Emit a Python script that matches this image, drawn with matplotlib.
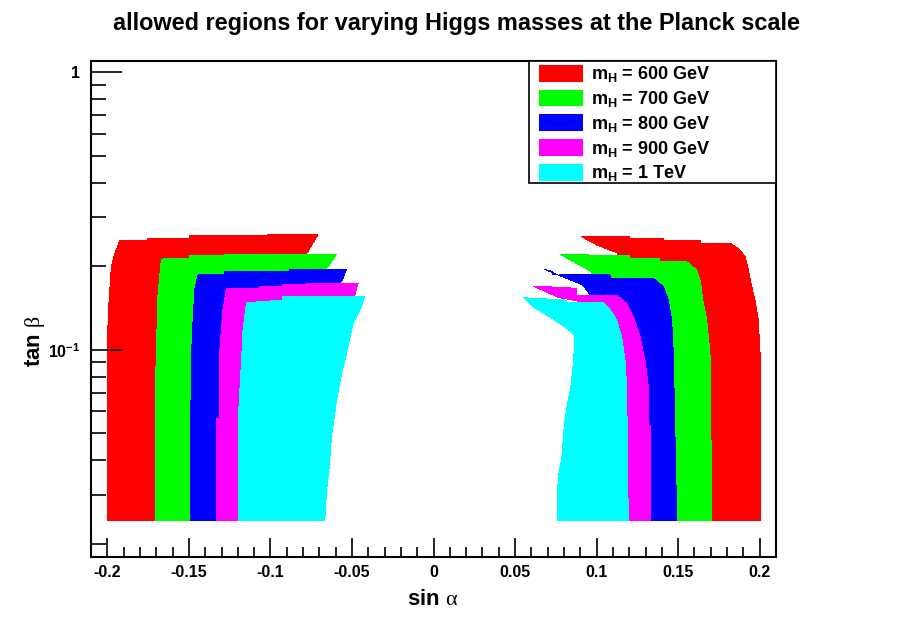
import matplotlib
matplotlib.use('Agg')
import matplotlib.pyplot as plt
from matplotlib.patches import Rectangle
from matplotlib.ticker import FixedLocator, NullFormatter

plt.rcParams['font.family'] = ['Liberation Sans', 'DejaVu Sans']
plt.rcParams['mathtext.fontset'] = 'custom'
plt.rcParams['mathtext.bf'] = 'Liberation Sans:bold'
plt.rcParams['mathtext.rm'] = 'Liberation Serif'
plt.rcParams['mathtext.it'] = 'Liberation Serif:italic'

# allowed regions, outlines in (sin alpha, tan beta), negative sin alpha side
red_l_sa = [-0.200, -0.200, -0.199, -0.1975, -0.196, -0.1945, -0.1925, -0.1753, -0.1753, -0.1495, -0.1495,
            -0.1017, -0.1017, -0.071, -0.0777, -0.0912, -0.0912]
red_l_tb = [0.0243, 0.107, 0.1475, 0.1995, 0.2167, 0.229, 0.2474, 0.2474, 0.2524, 0.2524, 0.2573,
            0.2573, 0.2595, 0.2595, 0.2229, 0.145, 0.0243]
green_l_sa = [-0.1706, -0.1704, -0.169, -0.1679, -0.1669, -0.1648, -0.1495, -0.1495, -0.1281, -0.1281,
              -0.0595, -0.0647, -0.0912, -0.0912]
green_l_tb = [0.0243, 0.0777, 0.1553, 0.1834, 0.2108, 0.2138, 0.2138, 0.2180, 0.2180, 0.2211,
              0.2211, 0.1993, 0.145, 0.0243]
blue_l_sa = [-0.1493, -0.1485, -0.1475, -0.1464, -0.1444, -0.1281, -0.1281, -0.0882, -0.0882, -0.0534,
             -0.0564, -0.0912, -0.0912]
blue_l_tb = [0.0243, 0.0918, 0.1248, 0.1642, 0.1861, 0.1861, 0.1913, 0.1913, 0.1951, 0.1951,
             0.1760, 0.145, 0.0243]
mag_l_sa = [-0.1329, -0.1329, -0.1315, -0.1315, -0.1301, -0.1291, -0.127, -0.1066, -0.1066, -0.0923,
            -0.0923, -0.0463, -0.0483, -0.0912, -0.0912]
mag_l_tb = [0.0243, 0.0567, 0.0567, 0.0918, 0.1178, 0.1391, 0.1666, 0.1666, 0.1688, 0.1688,
            0.1722, 0.1737, 0.1575, 0.145, 0.0243]
cyan_l_sa = [-0.1194, -0.1193, -0.1178, -0.1168, -0.1147, -0.0923, -0.0923, -0.0422, -0.0442, -0.0493,
             -0.0534, -0.0564, -0.0595, -0.0626, -0.064, -0.0656, -0.0667]
cyan_l_tb = [0.0243, 0.0623, 0.0893, 0.1178, 0.1478, 0.1511, 0.1562, 0.1562, 0.1429, 0.1245,
             0.0970, 0.0822, 0.0658, 0.0485, 0.0378, 0.0311, 0.0243]

# positive sin alpha side
red_r_sa = [0.2006, 0.2002, 0.1991, 0.1971, 0.1951, 0.1930, 0.1910, 0.1879, 0.1818, 0.1634, 0.1634,
            0.1409, 0.1409, 0.1204, 0.1204, 0.0908, 0.1000, 0.1133, 0.1008, 0.1008]
red_r_tb = [0.0243, 0.0970, 0.1280, 0.1511, 0.1688, 0.1940, 0.2167, 0.2291, 0.2422, 0.2422, 0.2474,
            0.2474, 0.2524, 0.2524, 0.2558, 0.2558, 0.2388, 0.2229, 0.1450, 0.0243]
green_r_sa = [0.1707, 0.1695, 0.1675, 0.1654, 0.1634, 0.1613, 0.1552, 0.1388, 0.1388, 0.1204, 0.1204,
              0.0950, 0.0950, 0.0775, 0.0969, 0.1008, 0.1008]
green_r_tb = [0.0243, 0.0970, 0.1280, 0.1474, 0.1785, 0.1940, 0.2078, 0.2078, 0.2138, 0.2138, 0.2180,
              0.2180, 0.2211, 0.2211, 0.1913, 0.1450, 0.0243]
blue_r_sa = [0.1491, 0.1470, 0.1460, 0.1439, 0.1409, 0.1347, 0.1082, 0.1082, 0.0732, 0.0732, 0.0679,
             0.0916, 0.1008, 0.1008]
blue_r_tb = [0.0243, 0.0970, 0.1280, 0.1511, 0.1688, 0.1810, 0.1810, 0.1861, 0.1861, 0.1913, 0.1951,
             0.1712, 0.1450, 0.0243]
mag_r_sa = [0.1329, 0.1329, 0.1317, 0.1317, 0.1296, 0.1266, 0.1225, 0.1184, 0.1123, 0.0877, 0.0877,
            0.0611, 0.0764, 0.1008, 0.1008]
mag_r_tb = [0.0243, 0.0535, 0.0535, 0.0735, 0.0918, 0.1114, 0.1315, 0.1471, 0.1575, 0.1575, 0.1666,
            0.1698, 0.1546, 0.1450, 0.0243]
cyan_r_sa = [0.1194, 0.1184, 0.1174, 0.1153, 0.1123, 0.1092, 0.1040, 0.0816, 0.0816, 0.0554, 0.0611,
             0.0713, 0.0806, 0.0867, 0.0861, 0.0853, 0.0842, 0.0816, 0.0801, 0.0785, 0.0771, 0.0758, 0.0758]
cyan_r_tb = [0.0243, 0.0735, 0.0918, 0.1114, 0.1280, 0.1372, 0.1486, 0.1486, 0.1511, 0.1540, 0.1429,
             0.1315, 0.1211, 0.1130, 0.0970, 0.0845, 0.0735, 0.0616, 0.0527, 0.0400, 0.0368, 0.0303, 0.0243]

labels = [r'$\mathbf{m_{H}}$ = 600 GeV', r'$\mathbf{m_{H}}$ = 700 GeV', r'$\mathbf{m_{H}}$ = 800 GeV',
          r'$\mathbf{m_{H}}$ = 900 GeV', r'$\mathbf{m_{H}}$ = 1 TeV']
colors = ['#ff0000', '#00ff00', '#0000ff', '#ff00ff', '#00ffff']

regions = [
	(red_l_sa, red_l_tb, red_r_sa, red_r_tb),
	(green_l_sa, green_l_tb, green_r_sa, green_r_tb),
	(blue_l_sa, blue_l_tb, blue_r_sa, blue_r_tb),
	(mag_l_sa, mag_l_tb, mag_r_sa, mag_r_tb),
	(cyan_l_sa, cyan_l_tb, cyan_r_sa, cyan_r_tb),
]

fig = plt.figure(figsize=(9.13, 6.19), dpi=100)
ax = fig.add_axes([0.0997, 0.1007, 0.7503, 0.8008])
ax.set_yscale('log')

# later (heavier) masses are painted over the lighter ones
for (lsa, ltb, rsa, rtb), c in zip(regions, colors):
	ax.fill(lsa, ltb, color=c, lw=0, antialiased=False)
	ax.fill(rsa, rtb, color=c, lw=0, antialiased=False)

ax.set_xlim(-0.21, 0.21)
ax.set_ylim(0.01795, 1.10)

ax.set_xticks([-0.2, -0.15, -0.1, -0.05, 0, 0.05, 0.1, 0.15, 0.2])
ax.set_xticklabels(['-0.2', '-0.15', '-0.1', '-0.05', '0', '0.05', '0.1', '0.15', '0.2'])
ax.xaxis.set_minor_locator(FixedLocator([i / 100 for i in range(-20, 21)]))
ax.set_yticks([0.1, 1])
ax.set_yticklabels([r'$\mathbf{10^{-1}}$', '1'])
ax.yaxis.set_minor_locator(FixedLocator([k * 0.01 for k in range(2, 10)] + [k * 0.1 for k in range(2, 10)]))
ax.yaxis.set_minor_formatter(NullFormatter())

ax.tick_params(axis='x', which='major', direction='in', length=14, width=1.2, top=False,
               labelsize=11.5, pad=6)
ax.tick_params(axis='x', which='minor', direction='in', length=7, width=1.2, top=False)
ax.tick_params(axis='y', which='major', direction='in', length=22, width=1.2, right=False,
               labelsize=11.5, pad=8)
ax.tick_params(axis='y', which='minor', direction='in', length=11, width=1.2, right=False)
for lab in ax.get_xticklabels() + ax.get_yticklabels():
	lab.set_fontweight('bold')
for sp in ax.spines.values():
	sp.set_linewidth(1.5)

fig.text(0.5, 0.962, 'allowed regions for varying Higgs masses at the Planck scale',
         ha='center', va='center', fontsize=16.9, fontweight='bold')
fig.text(0.474, 0.031, r'sin $\mathrm{\alpha}$', ha='center', va='center', fontsize=16, fontweight='bold')
fig.text(0.038, 0.449, r'tan $\mathrm{\beta}$', ha='center', va='center', fontsize=16, fontweight='bold',
         rotation=90)

# legend box drawn by hand (ROOT TLegend look)
ax.add_patch(Rectangle((0.6394, 0.7533), 0.3606, 0.2467, transform=ax.transAxes,
                       facecolor='white', edgecolor='black', lw=1.2, zorder=5))
row_step = 24.8 / 495.7
for i, (c, lab) in enumerate(zip(colors, labels)):
	yc = 0.9753 - i * row_step
	ax.add_patch(Rectangle((0.6536, yc - 0.0168), 0.0642, 0.0336, transform=ax.transAxes,
	                       facecolor=c, edgecolor='none', zorder=6))
	ax.text(0.7299, yc - 0.012, lab, transform=ax.transAxes, ha='left', va='baseline',
	        fontsize=13, fontweight='bold', zorder=7)

fig.savefig('out.png', dpi=100)
